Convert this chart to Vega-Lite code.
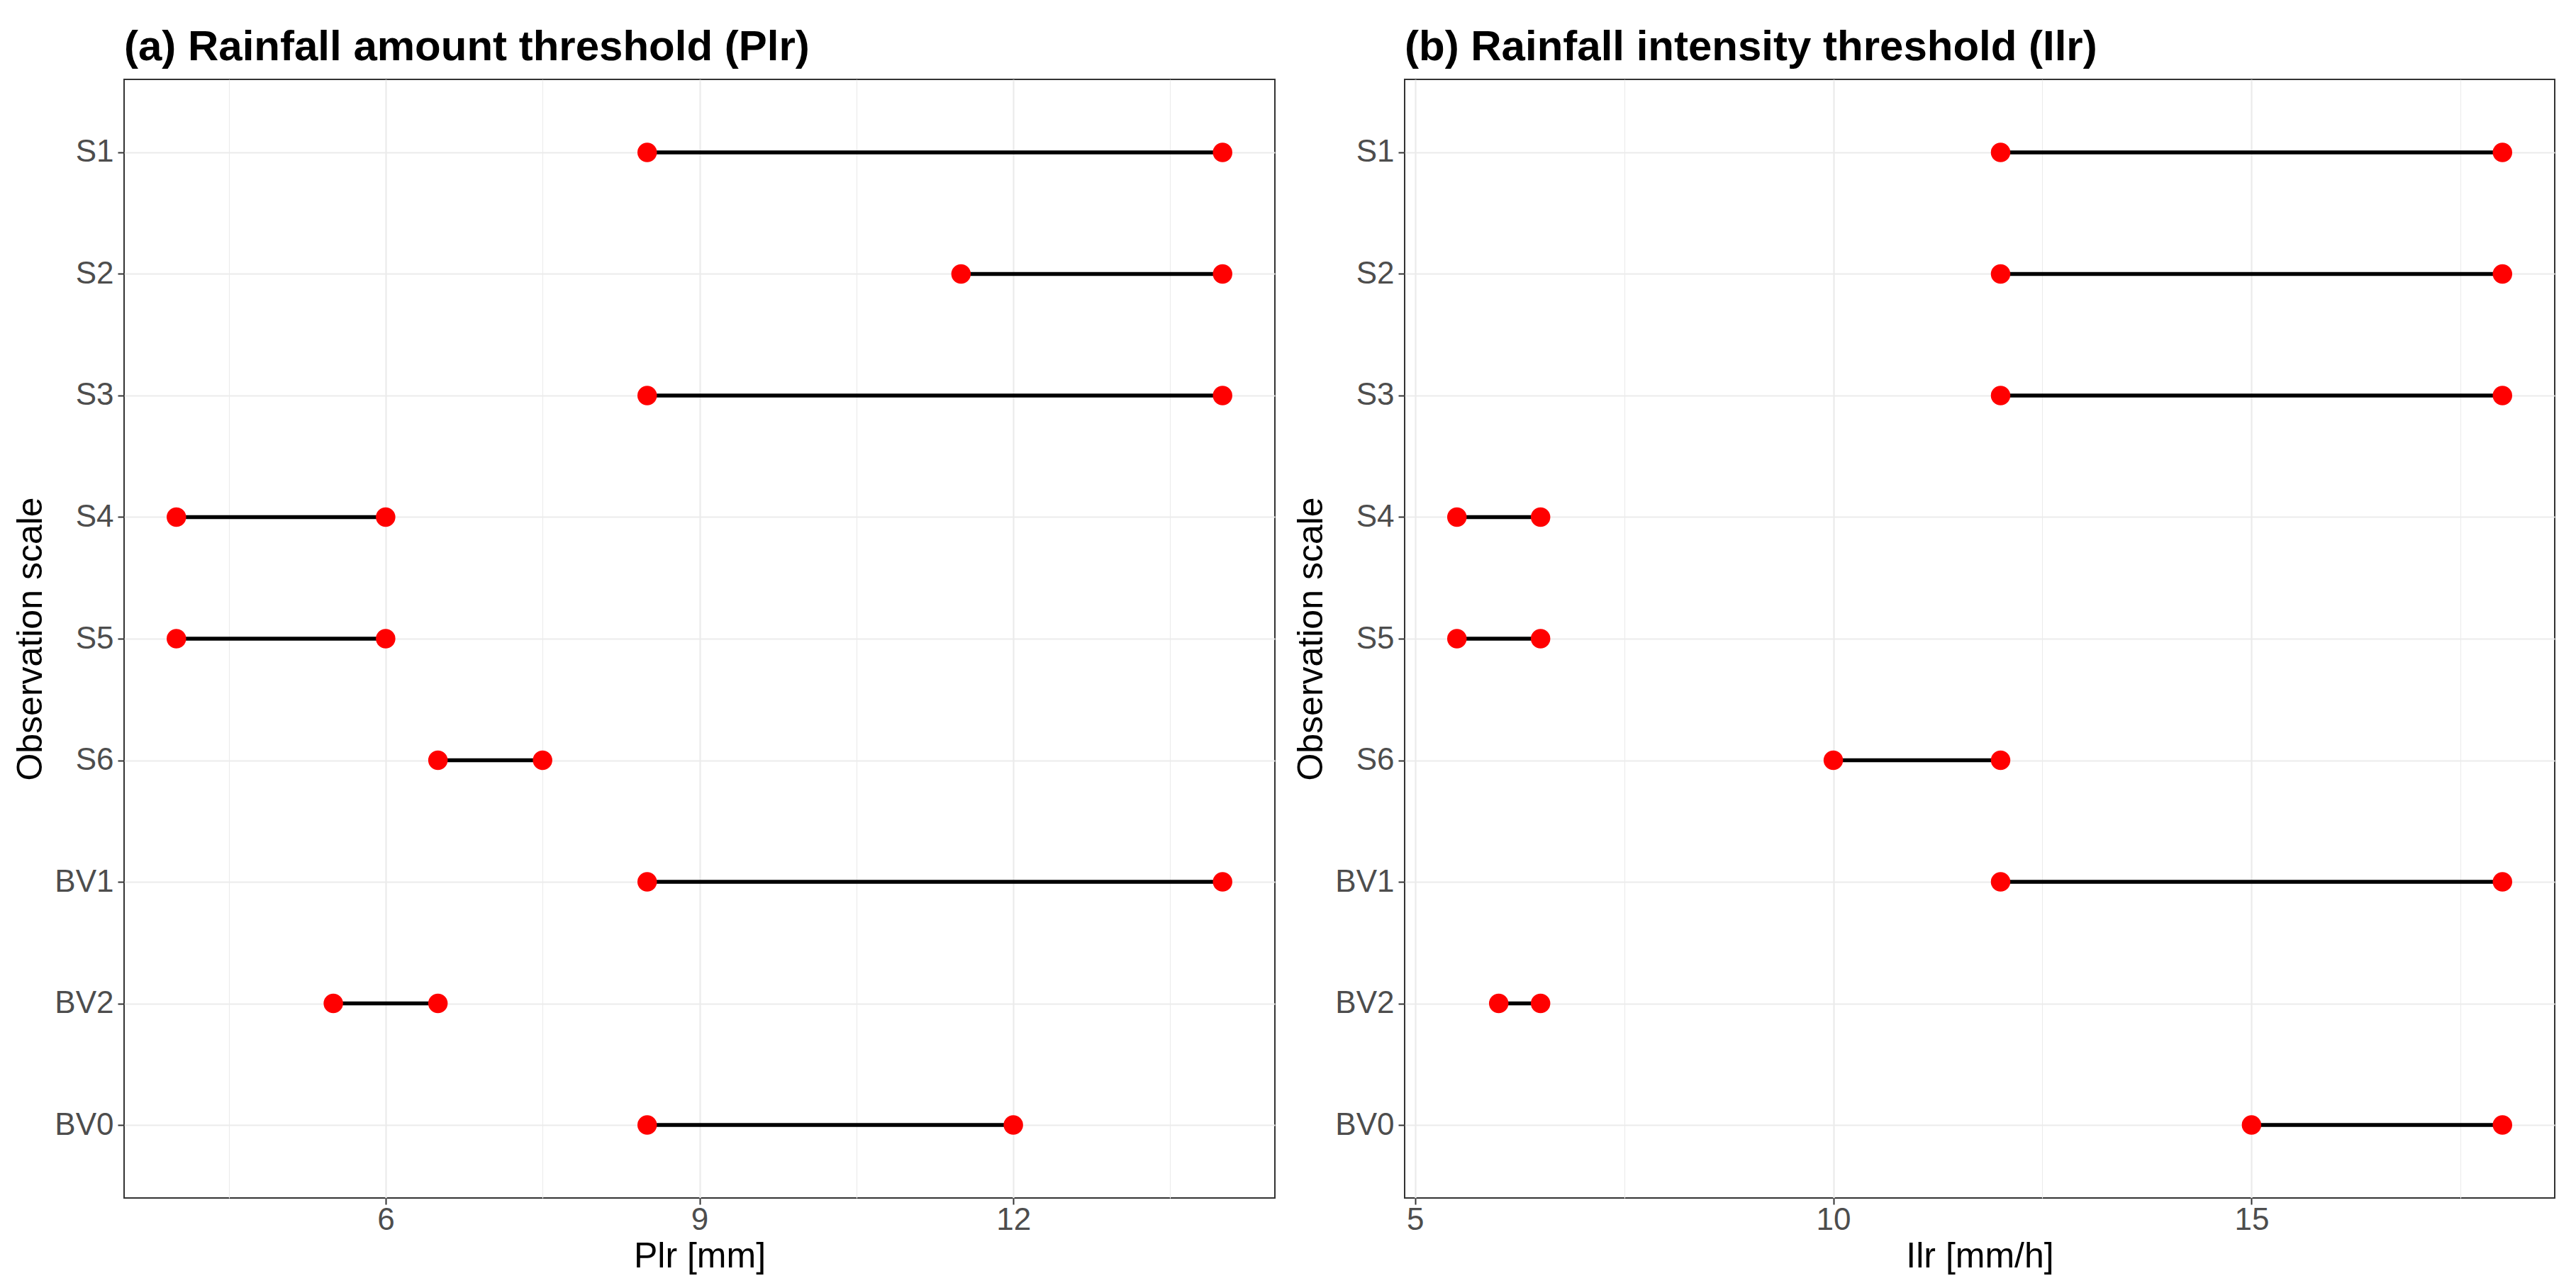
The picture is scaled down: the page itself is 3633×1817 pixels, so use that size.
{
  "$schema": "https://vega.github.io/schema/vega-lite/v6.json",
  "background": "white",
  "padding": {"left": 17, "top": 36, "right": 30, "bottom": 5},
  "spacing": 24,
  "datasets": {
    "plr": [
      {"scale": "S1", "lo": 8.5, "hi": 14},
      {"scale": "S2", "lo": 11.5, "hi": 14},
      {"scale": "S3", "lo": 8.5, "hi": 14},
      {"scale": "S4", "lo": 4, "hi": 6},
      {"scale": "S5", "lo": 4, "hi": 6},
      {"scale": "S6", "lo": 6.5, "hi": 7.5},
      {"scale": "BV1", "lo": 8.5, "hi": 14},
      {"scale": "BV2", "lo": 5.5, "hi": 6.5},
      {"scale": "BV0", "lo": 8.5, "hi": 12}
    ],
    "ilr": [
      {"scale": "S1", "lo": 12, "hi": 18},
      {"scale": "S2", "lo": 12, "hi": 18},
      {"scale": "S3", "lo": 12, "hi": 18},
      {"scale": "S4", "lo": 5.5, "hi": 6.5},
      {"scale": "S5", "lo": 5.5, "hi": 6.5},
      {"scale": "S6", "lo": 10, "hi": 12},
      {"scale": "BV1", "lo": 12, "hi": 18},
      {"scale": "BV2", "lo": 6, "hi": 6.5},
      {"scale": "BV0", "lo": 15, "hi": 18}
    ]
  },
  "hconcat": [
    {
      "width": 1623,
      "height": 1578,
      "title": {"text": "(a) Rainfall amount threshold (Plr)"},
      "data": {"name": "plr"},
      "encoding": {
        "y": {
          "field": "scale", "type": "nominal",
          "sort": ["S1", "S2", "S3", "S4", "S5", "S6", "BV1", "BV2", "BV0"],
          "scale": {"type": "point", "padding": 0.6},
          "axis": {"title": "Observation scale"}
        }
      },
      "layer": [
        {
          "mark": {"type": "rule", "color": "black", "strokeWidth": 5.5, "strokeCap": "butt"},
          "encoding": {
            "x": {
              "field": "lo", "type": "quantitative",
              "scale": {"domain": [3.5, 14.5], "nice": false, "zero": false},
              "axis": {
                "title": "Plr [mm]",
                "values": [4.5, 6, 7.5, 9, 10.5, 12, 13.5],
                "labelExpr": "datum.value % 3 === 0 ? format(datum.value, 'd') : ''",
                "gridWidth": {"condition": {"test": "datum.value % 3 === 0", "value": 2.2}, "value": 1.1},
                "tickOpacity": {"condition": {"test": "datum.value % 3 === 0", "value": 1}, "value": 0}
              }
            },
            "x2": {"field": "hi"}
          }
        },
        {
          "mark": {"type": "circle", "color": "#FF0000", "opacity": 1, "size": 755},
          "encoding": {"x": {"field": "lo", "type": "quantitative"}}
        },
        {
          "mark": {"type": "circle", "color": "#FF0000", "opacity": 1, "size": 755},
          "encoding": {"x": {"field": "hi", "type": "quantitative"}}
        }
      ]
    },
    {
      "width": 1622,
      "height": 1578,
      "title": {"text": "(b) Rainfall intensity threshold (Ilr)"},
      "data": {"name": "ilr"},
      "encoding": {
        "y": {
          "field": "scale", "type": "nominal",
          "sort": ["S1", "S2", "S3", "S4", "S5", "S6", "BV1", "BV2", "BV0"],
          "scale": {"type": "point", "padding": 0.6},
          "axis": {"title": "Observation scale"}
        }
      },
      "layer": [
        {
          "mark": {"type": "rule", "color": "black", "strokeWidth": 5.5, "strokeCap": "butt"},
          "encoding": {
            "x": {
              "field": "lo", "type": "quantitative",
              "scale": {"domain": [4.875, 18.625], "nice": false, "zero": false},
              "axis": {
                "title": "Ilr [mm/h]",
                "values": [5, 7.5, 10, 12.5, 15, 17.5],
                "labelExpr": "datum.value % 5 === 0 ? format(datum.value, 'd') : ''",
                "gridWidth": {"condition": {"test": "datum.value % 5 === 0", "value": 2.2}, "value": 1.1},
                "tickOpacity": {"condition": {"test": "datum.value % 5 === 0", "value": 1}, "value": 0}
              }
            },
            "x2": {"field": "hi"}
          }
        },
        {
          "mark": {"type": "circle", "color": "#FF0000", "opacity": 1, "size": 755},
          "encoding": {"x": {"field": "lo", "type": "quantitative"}}
        },
        {
          "mark": {"type": "circle", "color": "#FF0000", "opacity": 1, "size": 755},
          "encoding": {"x": {"field": "hi", "type": "quantitative"}}
        }
      ]
    }
  ],
  "config": {
    "font": "Liberation Sans",
    "view": {"stroke": "#333333", "strokeWidth": 2},
    "title": {
      "font": "Liberation Sans", "fontSize": 60, "fontWeight": "bold", "color": "black",
      "anchor": "start", "frame": "group", "baseline": "bottom", "offset": 14
    },
    "axis": {
      "domain": false,
      "grid": true,
      "gridColor": "#EBEBEB",
      "gridWidth": 2.2,
      "ticks": true,
      "tickColor": "#333333",
      "tickWidth": 2,
      "tickSize": 9,
      "labelFont": "Liberation Sans",
      "labelFontSize": 44,
      "labelColor": "#4D4D4D",
      "titleFont": "Liberation Sans",
      "titleFontSize": 50,
      "titleFontWeight": "normal",
      "titleColor": "black"
    },
    "axisX": {"labelPadding": 0, "titlePadding": 4},
    "axisY": {"labelPadding": 6, "titlePadding": 8}
  }
}
